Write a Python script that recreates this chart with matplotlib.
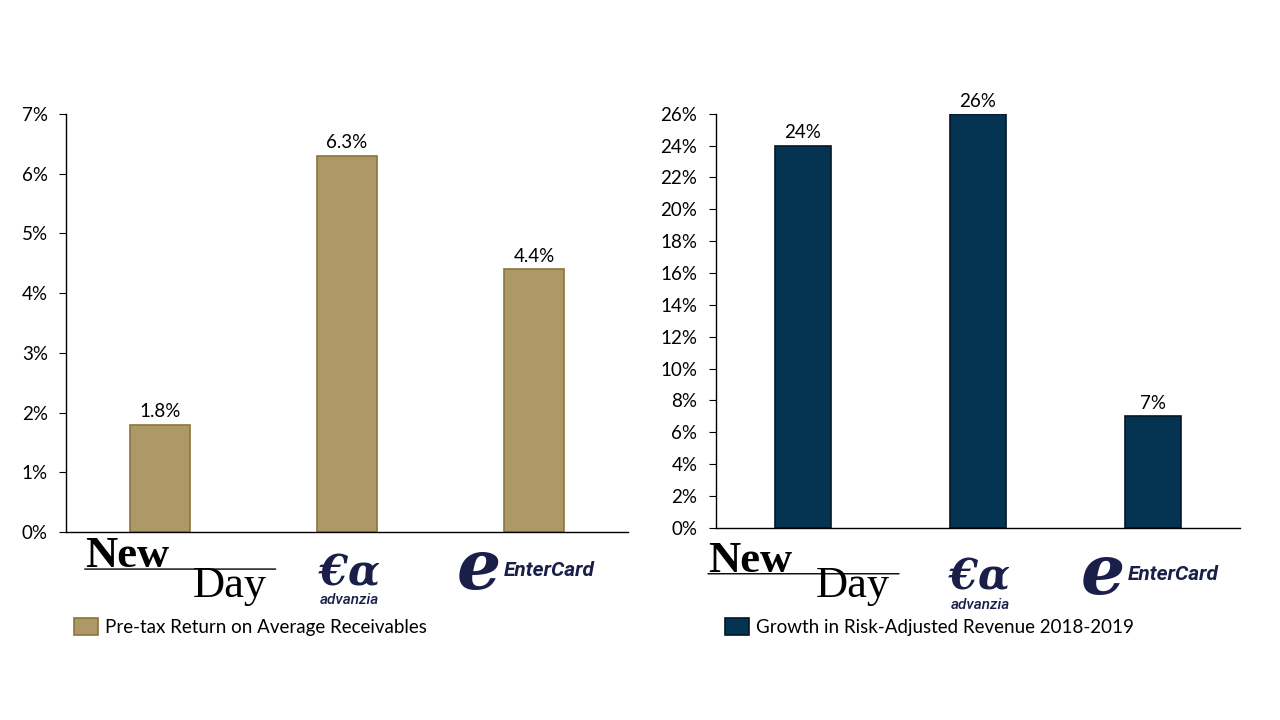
import matplotlib
matplotlib.use("Agg")
import matplotlib.pyplot as plt
from matplotlib.patches import Patch
from matplotlib.transforms import blended_transform_factory, offset_copy

# ── Data ───────────────────────────────────────────────────────────────
companies = ["NewDay", "Advanzia", "EnterCard"]
pretax_return = [1.8, 6.3, 4.4]
risk_adj_growth = [24, 26, 7]
left_ticks = [0, 1, 2, 3, 4, 5, 6, 7]
right_ticks = [0, 2, 4, 6, 8, 10, 12, 14, 16, 18, 20, 22, 24, 26]
left_label = "Pre-tax Return on Average Receivables"
right_label = "Growth in Risk-Adjusted Revenue 2018-2019"

GOLD = "#AD9868"
GOLD_EDGE = "#8C7538"
NAVY = "#053352"
NAVY_EDGE = "#021826"
LOGO_NAVY = "#1A1F4A"
FS = 13.5

plt.rcParams["font.family"] = ["Lato", "DejaVu Sans"]


def logo_text(ax, cat, s, dx, dy, **kw):
    tr = blended_transform_factory(ax.transData, ax.transAxes)
    ax.annotate(s, xy=(cat, 0), xycoords=tr, xytext=(dx, dy),
                textcoords="offset pixels", annotation_clip=False, **kw)


def draw_logos(ax, nd_dx, dy0, ec_dx):
    """Company logos under the axis, recreated as text (offsets in pixels)."""
    tr = blended_transform_factory(ax.transData, ax.transAxes)
    # NewDay
    logo_text(ax, 0, "New", nd_dx, -35 + dy0, ha="left", va="baseline",
              family="Liberation Serif", fontweight="bold", fontsize=32, color="black")
    logo_text(ax, 0, "Day", nd_dx + 108, -65 + dy0 * 0.5, ha="left", va="baseline",
              family="Liberation Serif", fontsize=32, color="black")
    start = offset_copy(tr, fig=ax.figure, x=nd_dx, y=-37 + dy0, units="dots")
    ax.annotate("", xy=(0, 0), xycoords=start, xytext=(191, 0),
                textcoords="offset pixels", annotation_clip=False,
                arrowprops=dict(arrowstyle="-", lw=1.0, color="black",
                                shrinkA=0, shrinkB=0))
    # Advanzia
    logo_text(ax, 1, "€α", 2, -53 + dy0, ha="center", va="baseline",
              family="DejaVu Serif", style="italic", fontweight="bold",
              fontsize=30, color=LOGO_NAVY)
    logo_text(ax, 1, "advanzia", 2, -72 + dy0, ha="center", va="baseline",
              family="Roboto", style="italic", fontweight="medium",
              fontsize=11, color=LOGO_NAVY)
    # EnterCard
    logo_text(ax, 2, "e", -56 + ec_dx, -38 + dy0, ha="center", va="center",
              family="DejaVu Serif", style="italic", fontweight="bold",
              fontsize=50, color=LOGO_NAVY)
    logo_text(ax, 2, "EnterCard", -31 + ec_dx, -38 + dy0, ha="left", va="center",
              family="Roboto", style="italic", fontweight="bold",
              fontsize=15, color=LOGO_NAVY)


def style_axes(ax, ticks, vals, color, edge, label, fmt, legend_x,
               nd_dx, dy0, ec_dx):
    x = range(len(vals))
    bars = ax.bar(x, vals, width=0.32, color=color, edgecolor=edge, linewidth=1.2)
    ax.set_xlim(-0.5, len(vals) - 0.5)
    ax.set_ylim(ticks[0], ticks[-1])
    ax.set_yticks(ticks)
    ax.set_yticklabels([f"{t}%" for t in ticks])
    ax.set_xticks([])
    for s in ["top", "right"]:
        ax.spines[s].set_visible(False)
    for s in ["left", "bottom"]:
        ax.spines[s].set_linewidth(1.0)
        ax.spines[s].set_color("black")
    ax.tick_params(axis="y", length=5, width=0.8, labelsize=FS, pad=8)
    for b, v in zip(bars, vals):
        ax.annotate(fmt.format(v), (b.get_x() + b.get_width() / 2, v),
                    xytext=(0, 3), textcoords="offset points",
                    ha="center", va="bottom", fontsize=FS)
    draw_logos(ax, nd_dx, dy0, ec_dx)
    ax.legend(handles=[Patch(facecolor=color, edgecolor=edge, linewidth=1.2)],
              labels=[label], loc="center left", bbox_to_anchor=(legend_x, 0.129),
              bbox_transform=ax.figure.transFigure,
              frameon=False, fontsize=FS, handlelength=1.28, handleheight=1.0,
              handletextpad=0.35, borderaxespad=0, borderpad=0)


fig = plt.figure(figsize=(12.8, 7.2), dpi=100)
ax1 = fig.add_axes([0.0516, 0.261, 0.439, 0.581])
ax2 = fig.add_axes([0.559, 0.267, 0.410, 0.575])

style_axes(ax1, left_ticks, pretax_return, GOLD, GOLD_EDGE, left_label,
           "{:.1f}%", 74 / 1280, -75, 0, 0)
style_axes(ax2, right_ticks, risk_adj_growth, NAVY, NAVY_EDGE, right_label,
           "{:d}%", 725 / 1280, -95, -9, 6)

fig.savefig("out.png", dpi=100)
